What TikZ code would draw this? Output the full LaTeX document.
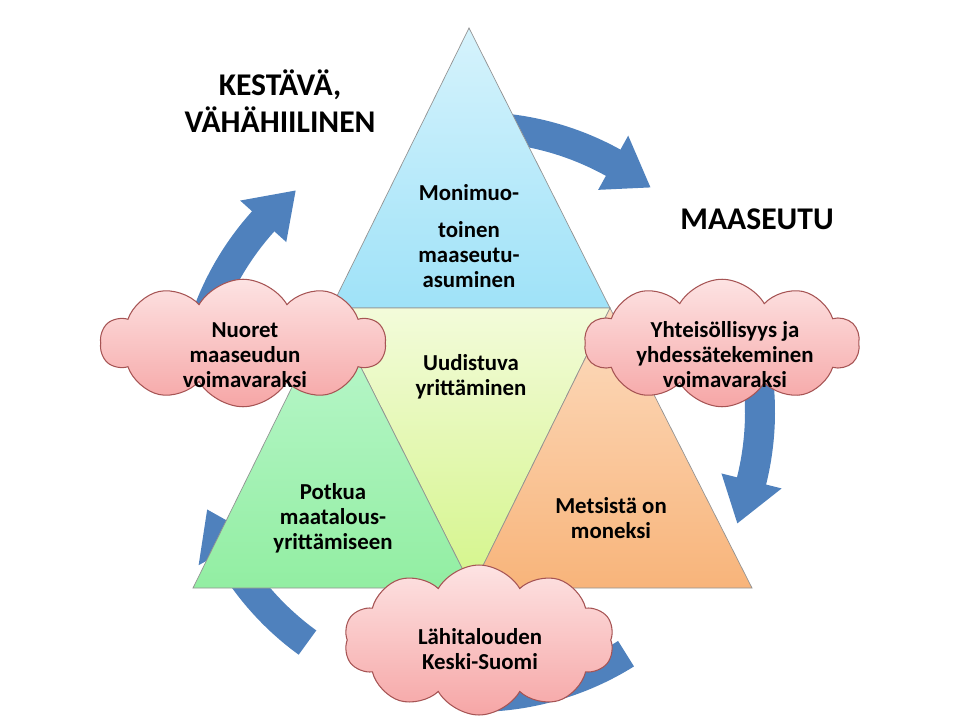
\documentclass[tikz,border=0pt]{standalone}
\usepackage{fontspec}
\setmainfont{Carlito}
\usetikzlibrary{shapes.symbols}
\definecolor{flowblue}{HTML}{4F81BD}
\definecolor{cloudline}{HTML}{A65454}
\definecolor{cloudtop}{HTML}{FDE3E3}
\definecolor{cloudbottom}{HTML}{F6A6A6}
\definecolor{bluetop}{HTML}{D6F3FC}
\definecolor{bluebottom}{HTML}{9FE2F8}
\definecolor{yellowtop}{HTML}{F3FBDA}
\definecolor{yellowbottom}{HTML}{D4F58A}
\definecolor{greentop}{HTML}{BDF7CF}
\definecolor{greenbottom}{HTML}{92EEA2}
\definecolor{orangetop}{HTML}{FCDCC0}
\definecolor{orangebottom}{HTML}{F8B47A}
\begin{document}
\begin{tikzpicture}[x=0.02cm,y=-0.02cm,
    flow/.style={fill=flowblue},
    tri/.style={draw=gray!85,line width=0.4pt},
    cloudy/.style={cloud,cloud puffs=10,cloud puff arc=120,draw=cloudline,
        line width=0.6pt,top color=cloudtop,bottom color=cloudbottom,inner sep=0pt},
    txt/.style={font=\fontsize{13}{14.2}\selectfont\bfseries,align=center},
    title/.style={font=\fontsize{18}{21}\selectfont\bfseries,align=center},
    ]
\def\ringr{285} % Radius of the ring of arrows
\def\ro{300}
\def\ri{270}
\def\rhout{316}
\def\rhin{254}
\def\hl{9} % Length of an arrow head, in degrees
\def\flowarrow#1#2{\fill[flow] (#1:\ro) arc[start angle=#1,end angle=#2-\hl,radius=\ro]
    -- (#2-\hl:\rhout) -- (#2:\ringr) -- (#2-\hl:\rhin) -- (#2-\hl:\ri)
    arc[start angle=#2-\hl,end angle=#1,radius=\ri] -- cycle;}

\useasboundingbox (0,0) rectangle (960,720);

    %% Ring of arrows, behind everything else
    \begin{scope}[shift={(475,412)}]
        \flowarrow{-85}{-52}
        \flowarrow{-15}{23}
        \fill[flow] (58:\ro) arc[start angle=58,end angle=90,radius=\ro]
            -- (90:\ri) arc[start angle=90,end angle=58,radius=\ri] -- cycle;
        \flowarrow{126}{160}
        \flowarrow{190}{231}
    \end{scope}

    %% Corners of the triangles
    \coordinate (apex) at (469,28);
    \coordinate (ml) at (331,308);
    \coordinate (mr) at (610,308);
    \coordinate (bl) at (193,588);
    \coordinate (bm) at (472,588);
    \coordinate (br) at (752,588);

    \draw[tri,top color=bluetop,bottom color=bluebottom] (apex) -- (ml) -- (mr) -- cycle;
    \draw[tri,top color=yellowtop,bottom color=yellowbottom] (ml) -- (mr) -- (bm) -- cycle;
    \draw[tri,top color=greentop,bottom color=greenbottom] (ml) -- (bl) -- (bm) -- cycle;
    \draw[tri,top color=orangetop,bottom color=orangebottom] (mr) -- (bm) -- (br) -- cycle;

    \node[txt] (asuminen) at (469,236) {Monimuo-\\[0.23cm]toinen\\maaseutu-\\asuminen};
    \node[txt] (uudistuva) at (471,377) {Uudistuva\\yrittäminen};
    \node[txt] (potkua) at (333,518) {Potkua\\maatalous-\\yrittämiseen};
    \node[txt] (metsista) at (611,518) {Metsistä on\\moneksi};

    %% Clouds
    \node[cloudy,minimum width=5.7cm,minimum height=2.55cm] (nuoret) at (243,343) {};
    \node[cloudy,minimum width=5.5cm,minimum height=2.55cm] (yhteis) at (722,343) {};
    \node[cloudy,minimum width=5.4cm,minimum height=3.0cm] (lahi) at (479,640) {};
    \node[txt] (nuoret-t) at (245,355) {Nuoret\\maaseudun\\voimavaraksi};
    \node[txt] (yhteis-t) at (725,355) {Yhteisöllisyys ja\\yhdessätekeminen\\voimavaraksi};
    \node[txt] (lahi-t) at (480,649) {Lähitalouden\\Keski-Suomi};

    %% Titles
    \node[title] (kestava) at (280,101) {KESTÄVÄ,\\VÄHÄHIILINEN};
    \node[title] (maaseutu) at (757,219) {MAASEUTU};
\end{tikzpicture}
\end{document}
